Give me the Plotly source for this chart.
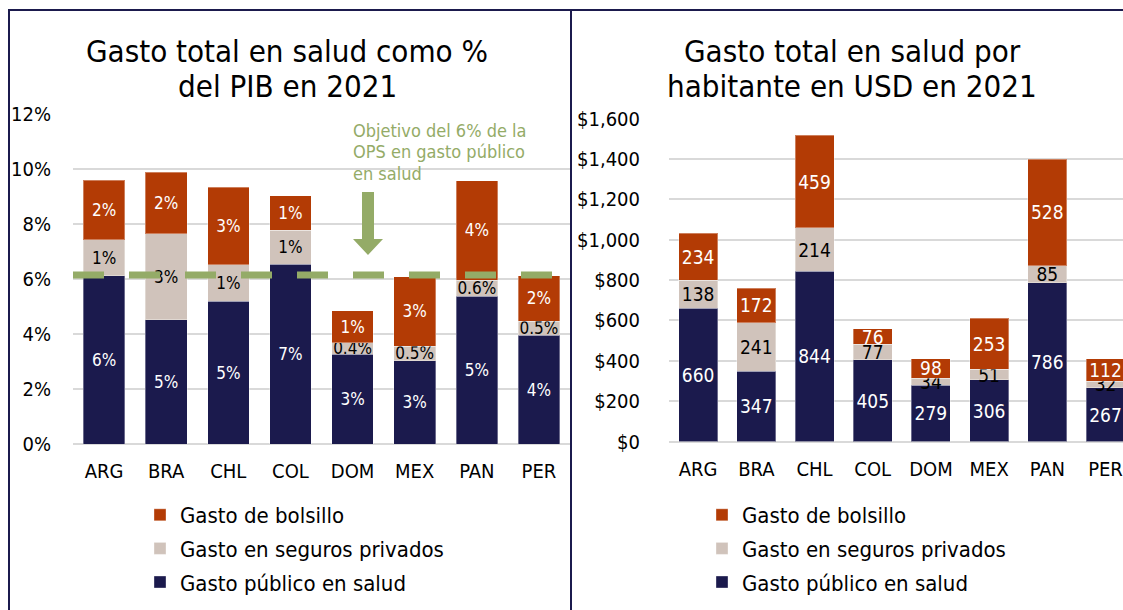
import plotly.graph_objects as go

# ---------------- data ----------------
PAISES = ["ARG", "BRA", "CHL", "COL", "DOM", "MEX", "PAN", "PER"]

# % del PIB
PIB_PUBLICO = [6.12, 4.51, 5.19, 6.53, 3.27, 3.03, 5.38, 3.96]
PIB_PRIVADO = [1.30, 3.13, 1.33, 1.25, 0.41, 0.53, 0.58, 0.51]
PIB_BOLSILLO = [2.18, 2.25, 2.81, 1.24, 1.16, 2.52, 3.61, 1.65]
OBJETIVO_OPS = 6.15
PIB_TICKS = [0, 2, 4, 6, 8, 10, 12]

# USD por habitante
USD_PUBLICO = [660, 347, 844, 405, 279, 306, 786, 267]
USD_PRIVADO = [138, 241, 214, 77, 34, 51, 85, 32]
USD_BOLSILLO = [234, 172, 459, 76, 98, 253, 528, 112]
USD_TICKS = [0, 200, 400, 600, 800, 1000, 1200, 1400, 1600]

SERIES = ["Gasto público en salud", "Gasto en seguros privados", "Gasto de bolsillo"]
NOTA_OPS = ["Objetivo del 6% de la", "OPS en gasto público", "en salud"]

# ---------------- style ----------------
FW, FH = 1123, 610
FONT = "DejaVu Sans Condensed, DejaVu Sans, sans-serif"
NAVY = "#1b1a4d"
BEIGE = "#d0c3bb"
RUST = "#b33b05"
GREEN = "#94ab67"
GRID = "#d9d9d9"
COLORS = [NAVY, BEIGE, RUST]
TXT = ["white", "black", "white"]
RANKS = [3, 2, 1]


def X(x):
    return x / FW


def Y(y):
    return 1 - y / FH


def pct_label(v):
    return f"{v:.0f}%" if v >= 1 else f"{v:.1f}%"


fig = go.Figure()

left_sets = [PIB_PUBLICO, PIB_PRIVADO, PIB_BOLSILLO]
right_sets = [USD_PUBLICO, USD_PRIVADO, USD_BOLSILLO]

for i, vals in enumerate(left_sets):
    fig.add_trace(go.Bar(
        x=PAISES, y=vals, name=SERIES[i], xaxis="x", yaxis="y",
        marker=dict(color=COLORS[i], line=dict(color="rgba(255,255,255,0.35)", width=1)),
        text=[pct_label(v) for v in vals], textposition="inside", textangle=0,
        insidetextanchor="middle", constraintext="none",
        textfont=dict(family=FONT, size=17, color=TXT[i]),
        legend="legend", legendgroup=f"l{i}", legendrank=RANKS[i], hoverinfo="skip",
    ))

for i, vals in enumerate(right_sets):
    fig.add_trace(go.Bar(
        x=PAISES, y=vals, name=SERIES[i], xaxis="x2", yaxis="y2",
        marker=dict(color=COLORS[i], line=dict(color="rgba(255,255,255,0.35)", width=1)),
        text=[f"{v:d}" for v in vals], textposition="inside", textangle=0,
        insidetextanchor="middle", constraintext="none",
        textfont=dict(family=FONT, size=19, color=TXT[i]),
        legend="legend2", legendgroup=f"r{i}", legendrank=RANKS[i], hoverinfo="skip",
    ))

x0L, x1L = 73, 570
x0R = 669
slotR = 58.2
axis_font = dict(family=FONT, size=20, color="black")
leg_font = dict(family=FONT, size=22, color="black")

fig.update_layout(
    width=FW, height=FH,
    margin=dict(l=0, r=0, t=0, b=0, autoexpand=False),
    paper_bgcolor="white", plot_bgcolor="white",
    barmode="stack", bargap=0.33,
    font=dict(family=FONT, color="black"),
    hovermode=False,
    xaxis=dict(domain=[X(x0L), X(x1L)], range=[-0.5, 7.5], anchor="y",
               showgrid=False, showline=False, ticks="", tickfont=axis_font,
               ticklabelstandoff=13, automargin=False),
    yaxis=dict(domain=[Y(444), Y(114)], range=[0, 12], anchor="x",
               tickmode="array", tickvals=PIB_TICKS,
               ticktext=[f"{v}%" for v in PIB_TICKS],
               showgrid=True, gridcolor=GRID,
               gridwidth=2, zeroline=True, zerolinecolor=GRID, zerolinewidth=2,
               showline=False, ticks="", tickfont=axis_font, ticklabelstandoff=21,
               automargin=False),
    xaxis2=dict(domain=[X(x0R), 1.0], range=[-0.5, -0.5 + (FW - x0R) / slotR],
                anchor="y2", showgrid=False, showline=False, ticks="", tickfont=axis_font,
                ticklabelstandoff=13, automargin=False),
    yaxis2=dict(domain=[Y(441.5), Y(118.5)], range=[0, 1600], anchor="x2",
                tickmode="array", tickvals=USD_TICKS,
                ticktext=[f"${v:,}" for v in USD_TICKS],
                showgrid=True,
                gridcolor=GRID, gridwidth=2, zeroline=True, zerolinecolor=GRID,
                zerolinewidth=2, showline=False, ticks="", tickfont=axis_font,
                ticklabelstandoff=28, automargin=False),
    legend=dict(x=X(140), y=Y(494), xanchor="left", yanchor="top",
                traceorder="grouped", tracegroupgap=2, font=leg_font,
                bgcolor="rgba(0,0,0,0)"),
    legend2=dict(x=X(702), y=Y(494), xanchor="left", yanchor="top",
                 traceorder="grouped", tracegroupgap=2, font=leg_font,
                 bgcolor="rgba(0,0,0,0)"),
    showlegend=True,
)

# objective line (6% OPS)
fig.add_shape(type="line", xref="x domain", yref="y", x0=0, x1=1,
              y0=OBJETIVO_OPS, y1=OBJETIVO_OPS,
              line=dict(color=GREEN, width=7, dash="31px,25px"), layer="above")

# block arrow
pts = [(362, 192), (374, 192), (374, 239), (383, 239), (368, 255), (353, 239), (362, 239)]
path = "M " + " L ".join(f"{X(a):.5f},{Y(b):.5f}" for a, b in pts) + " Z"
fig.add_shape(type="path", xref="paper", yref="paper", path=path,
              fillcolor=GREEN, line=dict(width=0), layer="above")

for ly, t in zip([130, 151.5, 173], NOTA_OPS):
    fig.add_annotation(x=X(351), y=Y(ly), xref="paper", yref="paper",
                       xanchor="left", yanchor="middle", align="left", showarrow=False,
                       text=t, font=dict(family=FONT, size=18, color=GREEN))

# titles
for (cx, lines) in [(287, ["Gasto total en salud como %", "del PIB en 2021"]),
                    (852, ["Gasto total en salud por", "habitante en USD en 2021"])]:
    for ly, t in zip([51, 86], lines):
        fig.add_annotation(x=X(cx), y=Y(ly), xref="paper", yref="paper",
                           xanchor="center", yanchor="middle", showarrow=False,
                           text=t, font=dict(family=FONT, size=31, color="black"))

# frame lines
for (a, b, c, d) in [(9, 10, 9, 612), (8, 10, 1130, 10), (571, 10, 571, 612)]:
    fig.add_shape(type="line", xref="paper", yref="paper",
                  x0=X(a), y0=Y(b), x1=X(c), y1=Y(d),
                  line=dict(color=NAVY, width=2), layer="above")

PAGE_CSS_JS = ("document.body.style.margin='0';"
               "document.body.style.overflow='hidden';"
               "document.documentElement.style.overflow='hidden';")

fig.write_html("out.html", post_script=PAGE_CSS_JS,
               config={"displayModeBar": False, "staticPlot": True})
